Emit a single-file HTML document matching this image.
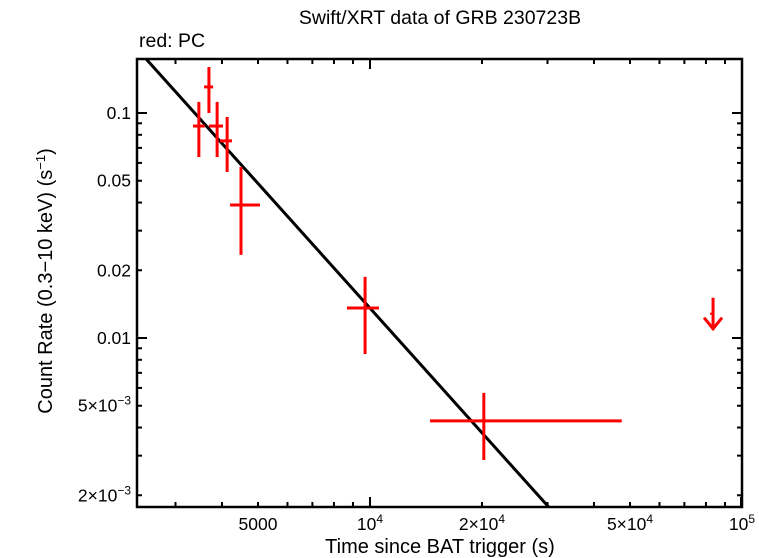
<!DOCTYPE html>
<html><head><meta charset="utf-8"><style>
body{margin:0;background:#fff;}
svg{display:block;font-family:"Liberation Sans",sans-serif;}
</style></head><body>
<svg id="chart" width="759" height="558" viewBox="0 0 759 558"></svg>
<script>
const times=[3467,3690,3882,4130,4500,9700,20230];
const tLo=[3342,3580,3690,3953,4206,8670,14500];
const tHi=[3597,3786,4027,4255,5060,10570,47500];
const rates=[0.0875,0.1306,0.0875,0.0752,0.039,0.01359,0.00428];
const rLo=[0.0637,0.1,0.0637,0.0547,0.0234,0.00849,0.00287];
const rHi=[0.112,0.16,0.112,0.096,0.0575,0.0187,0.0057];
const ulTime=[83600];
const ulRate=[0.0151];
const fitNorm=0.174, fitT0=2500, fitIndex=1.84;
const xTickVals=[5000,10000,20000,50000,100000];
const xTickLabels=["5000","10<tspan dy='-7' font-size='12'>4</tspan>","2×10<tspan dy='-7' font-size='12'>4</tspan>","5×10<tspan dy='-7' font-size='12'>4</tspan>","10<tspan dy='-7' font-size='12'>5</tspan>"];
const yTickVals=[0.1,0.05,0.02,0.01,0.005,0.002];
const yTickLabels=["0.1","0.05","0.02","0.01","5×10<tspan dy='-7' font-size='12'>−3</tspan>","2×10<tspan dy='-7' font-size='12'>−3</tspan>"];

const L=137,R=742,T=59,B=507;
const X=t=>370+372*(Math.log10(t)-4);
const Y=r=>113-225*(Math.log10(r)+1);
const svg=document.getElementById('chart');
const NS='http://www.w3.org/2000/svg';
function mk(tag,attrs,parent){const e=document.createElementNS(NS,tag);for(const k in attrs)e.setAttribute(k,attrs[k]);(parent||svg).appendChild(e);return e;}

const defs=mk('defs',{});const cp=mk('clipPath',{id:'pc'},defs);mk('rect',{x:L,y:T,width:R-L,height:B-T},cp);

const tg=mk('g',{stroke:'#000','stroke-width':2});


for(let d=3;d<=4;d++)for(let m=1;m<=9;m++){const t=m*Math.pow(10,d);const x=X(t);if(x<L||x>R)continue;const len=(m===1)?10:5;
 mk('line',{x1:x,y1:B,x2:x,y2:B-len},tg);mk('line',{x1:x,y1:T,x2:x,y2:T+len},tg);}
{const x=X(100000);mk('line',{x1:x-1,y1:B,x2:x-1,y2:B-10},tg);}
for(let d=-3;d<=-1;d++)for(let m=1;m<=9;m++){const r=m*Math.pow(10,d);const y=Y(r);if(y<T||y>B)continue;const len=(m===1)?10:5;
 mk('line',{x1:L,y1:y,x2:L+len,y2:y},tg);mk('line',{x1:R,y1:y,x2:R-len,y2:y},tg);}

const fr=mk('rect',{x:L,y:T,width:R-L,height:B-T,fill:'none',stroke:'#000','stroke-width':2.5});



xTickVals.forEach((v,i)=>{const t=mk('text',{x:X(v),y:530,'text-anchor':'middle','font-size':17.5});t.innerHTML=xTickLabels[i];
 
 });
yTickVals.forEach((v,i)=>{const t=mk('text',{x:L-6,y:Y(v)+6,'text-anchor':'end','font-size':17.5});t.innerHTML=yTickLabels[i];
 
 });

const fx1=2300,fx2=40000;
const fl=mk('line',{x1:X(fx1),y1:Y(fitNorm*Math.pow(fx1/fitT0,-fitIndex)),x2:X(fx2),y2:Y(fitNorm*Math.pow(fx2/fitT0,-fitIndex)),stroke:'#000','stroke-width':3,'clip-path':'url(#pc)'});



const dg=mk('g',{stroke:'#f00','stroke-width':3,'clip-path':'url(#pc)'});


times.forEach((t,i)=>{const g=mk('g',{},dg);
 
 
 mk('line',{x1:X(tLo[i]),y1:Y(rates[i]),x2:X(tHi[i]),y2:Y(rates[i])},g);
 mk('line',{x1:X(t),y1:Y(rLo[i]),x2:X(t),y2:Y(rHi[i])},g);});
ulTime.forEach((t,i)=>{const g=mk('g',{},dg);
 
 
 const x=X(t),y=Y(ulRate[i]);
 mk('line',{x1:x,y1:y,x2:x,y2:y+32},g);
 mk('polyline',{points:`${x-9},${y+20} ${x},${y+31} ${x+9},${y+20}`,fill:'none'},g);
 mk('line',{x1:x-3,y1:y+16,x2:x,y2:y+16,'stroke-width':2},g);});

const title=mk('text',{x:440,y:24,'text-anchor':'middle','font-size':19.5});title.textContent='Swift/XRT data of GRB 230723B';


const leg=mk('text',{x:139,y:47,'font-size':19.5});leg.textContent='red: PC';


const xl=mk('text',{x:440,y:553,'text-anchor':'middle','font-size':20});xl.textContent='Time since BAT trigger (s)';


const yl=mk('text',{x:0,y:0,'text-anchor':'middle','font-size':20,transform:'translate(52,281) rotate(-90)'});
yl.innerHTML="Count Rate (0.3−10 keV) (s<tspan dy='-7' font-size='13'>−1</tspan><tspan dy='7'>)</tspan>";


</script>
</body></html>
